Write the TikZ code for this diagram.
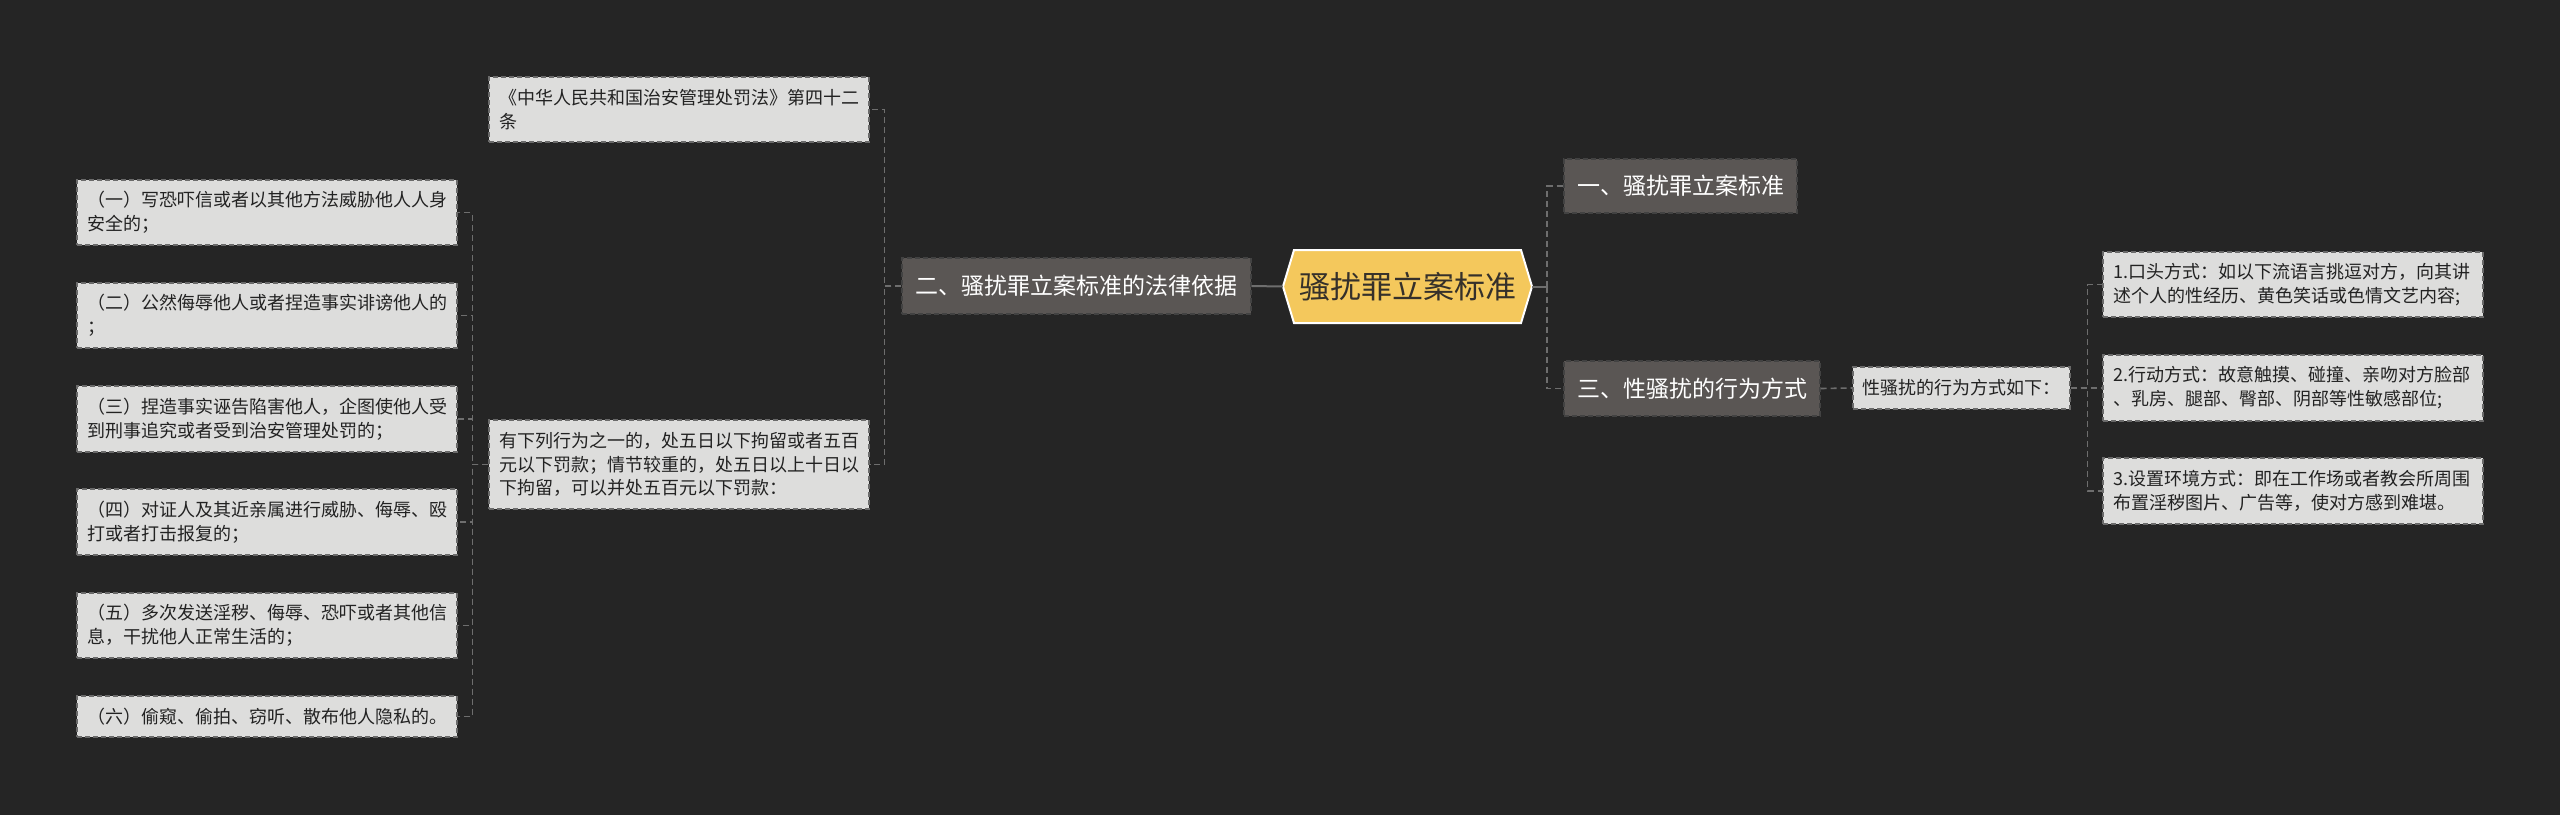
\documentclass[tikz,border=0pt]{standalone}
\usepackage{fontspec}
\newfontfamily\cjk{Noto Sans CJK SC}
\definecolor{bg}{HTML}{252525}
\definecolor{rootfill}{HTML}{F4C85C}
\definecolor{roottext}{HTML}{35302A}
\definecolor{midfill}{HTML}{5A5654}
\definecolor{midborder}{HTML}{424242}
\definecolor{leaffill}{HTML}{DDDDDC}
\definecolor{leafborder}{HTML}{6A6A6A}
\definecolor{leaftext}{HTML}{222222}
\definecolor{linecol}{HTML}{6E6E6E}
\tikzset{
  midbox/.style={rectangle, fill=midfill, draw=midborder, dashed, dash pattern=on 5pt off 3pt, line width=1.2pt,
    text=white, font=\cjk\fontsize{23}{28}\selectfont, inner xsep=12pt, inner ysep=0pt},
  leafbox/.style={rectangle, fill=leaffill, draw=leafborder, dash pattern=on 5pt off 3pt, line width=1.2pt,
    text=leaftext, font=\cjk\fontsize{18}{24}\selectfont, align=left, text width=360pt, inner xsep=10pt, inner ysep=0pt},
  smallleaf/.style={rectangle, fill=leaffill, draw=leafborder, dash pattern=on 5pt off 3pt, line width=1.2pt,
    text=leaftext, font=\cjk\fontsize{18}{24}\selectfont, inner xsep=8pt, inner ysep=0pt},
  conn/.style={draw=linecol, line width=1.6pt, dash pattern=on 6pt off 4pt},
  rootconn/.style={draw=linecol, line width=2pt},
}
\begin{document}
\begin{tikzpicture}[x=1pt,y=-1pt]
\fill[bg] (0,0) rectangle (2560,815);
\useasboundingbox (0,0) rectangle (2560,815);

% root
\coordinate (rc) at (1407.5,286.5);
\filldraw[fill=rootfill, draw=white, line width=2pt, line join=miter]
  (rc) ++(-124.5,0) -- ++(11,-36.5) -- ++(227,0) -- ++(11,36.5) -- ++(-11,36.5) -- ++(-227,0) -- cycle;
\node[minimum width=249pt, minimum height=73pt, inner sep=0pt, text=roottext,
  font=\cjk\fontsize{31}{36}\selectfont] (root) at (rc) {骚扰罪立案标准};

% right branch
\node[midbox, minimum width=233pt, minimum height=54pt] (n1) at (1680.5,186) {一、骚扰罪立案标准};
\node[midbox, minimum width=256pt, minimum height=55pt] (n3) at (1692,388.5) {三、性骚扰的行为方式};
\node[smallleaf, minimum width=217pt, minimum height=42pt] (l0) at (1961.5,388) {性骚扰的行为方式如下：};

\node[leafbox, minimum height=65pt] (r1) at (2293,284.5) {1.口头方式：如以下流语言挑逗对方，向其讲\\述个人的性经历、黄色笑话或色情文艺内容;};
\node[leafbox, minimum height=66pt] (r2) at (2293,388) {2.行动方式：故意触摸、碰撞、亲吻对方脸部\\、乳房、腿部、臀部、阴部等性敏感部位;};
\node[leafbox, minimum height=66pt] (r3) at (2293,491) {3.设置环境方式：即在工作场或者教会所周围\\布置淫秽图片、广告等，使对方感到难堪。};

% left branch
\node[midbox, minimum width=349pt, minimum height=56pt] (n2) at (1076.5,286) {二、骚扰罪立案标准的法律依据};
\node[leafbox, minimum height=65pt] (law) at (679,109.5) {《中华人民共和国治安管理处罚法》第四十二\\条};
\node[leafbox, minimum height=89pt, font=\cjk\fontsize{18}{23.5}\selectfont] (act) at (679,464.5) {有下列行为之一的，处五日以下拘留或者五百\\元以下罚款；情节较重的，处五日以上十日以\\下拘留，可以并处五百元以下罚款：};

\node[leafbox, minimum height=65pt] (L1) at (267,212.5) {（一）写恐吓信或者以其他方法威胁他人人身\\安全的；};
\node[leafbox, minimum height=65pt] (L2) at (267,315.5) {（二）公然侮辱他人或者捏造事实诽谤他人的\\；};
\node[leafbox, minimum height=66pt] (L3) at (267,419) {（三）捏造事实诬告陷害他人，企图使他人受\\到刑事追究或者受到治安管理处罚的；};
\node[leafbox, minimum height=66pt] (L4) at (267,522) {（四）对证人及其近亲属进行威胁、侮辱、殴\\打或者打击报复的；};
\node[leafbox, minimum height=65pt] (L5) at (267,625.5) {（五）多次发送淫秽、侮辱、恐吓或者其他信\\息，干扰他人正常生活的；};
\node[leafbox, minimum height=41pt] (L6) at (267,716.5) {（六）偷窥、偷拍、窃听、散布他人隐私的。};

% connectors
\draw[rootconn] (root.east) -- ++(15,0) coordinate (rj);
\draw[conn] (rj) |- (n1.west);
\draw[conn] (rj) |- (n3.west);
\draw[rootconn] (root.west) -- (n2.east);
\draw[conn] (n3.east) -- (l0.west);
\foreach \t in {r1,r2,r3} \draw[conn] (l0.east) -- ++(17,0) |- (\t.west);
\foreach \t in {law,act} \draw[conn] (n2.west) -- ++(-17,0) |- (\t.east);
\foreach \t in {L1,L2,L3,L4,L5,L6} \draw[conn] (act.west) -- ++(-16,0) |- (\t.east);
\end{tikzpicture}
\end{document}
